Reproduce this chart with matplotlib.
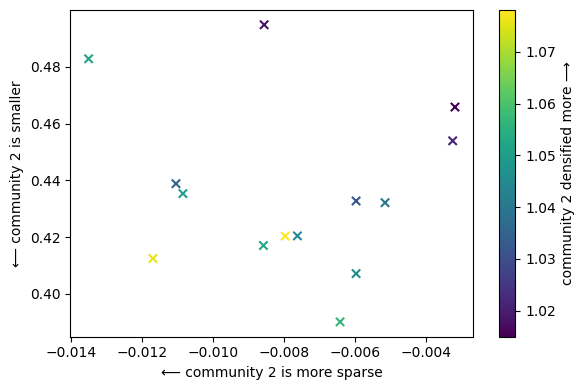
import matplotlib
matplotlib.use("Agg")
import matplotlib.pyplot as plt

x_vals = [-0.013504, -0.008555, -0.003175, -0.00324, -0.011042, -0.010845, -0.005963,
          -0.005146, -0.007963, -0.007617, -0.008575, -0.01169, -0.005963, -0.006414]
y_vals = [0.4828, 0.4948, 0.4658, 0.4539, 0.4388, 0.4353, 0.4327,
          0.4321, 0.4203, 0.4204, 0.4170, 0.4124, 0.4071, 0.3901]
c_vals = [1.052, 1.018, 1.015, 1.021, 1.035, 1.050, 1.032,
          1.040, 1.078, 1.045, 1.052, 1.076, 1.046, 1.057]

fig = plt.figure(figsize=(5.85, 3.9), dpi=100)
ax = fig.add_axes([70.3/585, (390-336.7)/390, 403/585, 326.4/390])
cax = fig.add_axes([499.3/585, (390-336.7)/390, 16/585, 326.4/390])
sc = ax.scatter(x_vals, y_vals, c=c_vals, marker='x', cmap='viridis')
ax.set_ylim(top=min(ax.get_ylim()[1], 0.4999))
cb = fig.colorbar(sc, cax=cax)
cb.set_label('community 2 densified more ⟶')
ax.set_xlabel('⟵ community 2 is more sparse')
ax.set_ylabel('⟵ community 2 is smaller')
fig.savefig('out.png', dpi=100)
